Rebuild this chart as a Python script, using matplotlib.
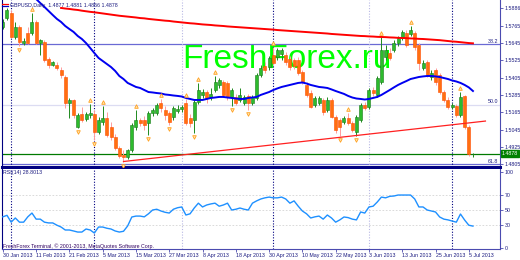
import numpy as np
import matplotlib.pyplot as plt
from matplotlib.lines import Line2D

plt.rcParams['font.family'] = ['Liberation Sans', 'DejaVu Sans']

# подписи оси времени (каждые 8 баров)
dates = ['30 Jan 2013', '11 Feb 2013', '21 Feb 2013', '5 Mar 2013', '15 Mar 2013',
         '27 Mar 2013', '8 Apr 2013', '18 Apr 2013', '30 Apr 2013', '10 May 2013',
         '22 May 2013', '3 Jun 2013', '13 Jun 2013', '25 Jun 2013', '5 Jul 2013']
date_bars = [0, 8, 16, 24, 32, 40, 48, 56, 64, 72, 80, 88, 96, 104, 112]

# GBPUSD Daily, OHLC
opens = [
    1.5756, 1.5818, 1.5853, 1.5687, 1.5756, 1.5645, 1.5715, 1.5715, 1.5791, 1.5645,
    1.5652, 1.5535, 1.5493, 1.5493, 1.5459, 1.5410, 1.5230, 1.5251, 1.5064, 1.5154,
    1.5120, 1.5147, 1.5154, 1.5030, 1.5099, 1.5126, 1.5064, 1.4995, 1.4919, 1.4870,
    1.4857, 1.4905, 1.5064, 1.5113, 1.5113, 1.5092, 1.5161, 1.5161, 1.5230, 1.5182,
    1.5161, 1.5133, 1.5175, 1.5189, 1.5230, 1.5126, 1.5113, 1.5237, 1.5286, 1.5306,
    1.5272, 1.5320, 1.5355, 1.5376, 1.5369, 1.5272, 1.5272, 1.5251, 1.5230, 1.5279,
    1.5230, 1.5265, 1.5424, 1.5486, 1.5479, 1.5562, 1.5549, 1.5569, 1.5562, 1.5535,
    1.5528, 1.5528, 1.5445, 1.5355, 1.5299, 1.5216, 1.5230, 1.5251, 1.5182, 1.5251,
    1.5133, 1.5113, 1.5099, 1.5126, 1.5092, 1.5030, 1.5113, 1.5216, 1.5203, 1.5320,
    1.5286, 1.5376, 1.5549, 1.5576, 1.5597, 1.5645, 1.5680, 1.5715, 1.5708, 1.5715,
    1.5632, 1.5472, 1.5514, 1.5410, 1.5459, 1.5424, 1.5306, 1.5251, 1.5203, 1.5209,
    1.5147, 1.5279, 1.5064, 1.4877]
highs = [
    1.5812, 1.5888, 1.5874, 1.5791, 1.5770, 1.5680, 1.5756, 1.5853, 1.5805, 1.5673,
    1.5666, 1.5549, 1.5521, 1.5514, 1.5479, 1.5424, 1.5265, 1.5258, 1.5161, 1.5203,
    1.5168, 1.5223, 1.5182, 1.5133, 1.5209, 1.5168, 1.5099, 1.5016, 1.4933, 1.4905,
    1.4912, 1.5092, 1.5182, 1.5126, 1.5140, 1.5175, 1.5196, 1.5230, 1.5258, 1.5209,
    1.5175, 1.5209, 1.5216, 1.5216, 1.5258, 1.5154, 1.5251, 1.5369, 1.5327, 1.5320,
    1.5334, 1.5417, 1.5403, 1.5389, 1.5382, 1.5334, 1.5293, 1.5334, 1.5286, 1.5293,
    1.5286, 1.5438, 1.5493, 1.5514, 1.5555, 1.5618, 1.5611, 1.5611, 1.5583, 1.5555,
    1.5542, 1.5549, 1.5459, 1.5376, 1.5320, 1.5279, 1.5279, 1.5265, 1.5272, 1.5265,
    1.5147, 1.5126, 1.5140, 1.5161, 1.5106, 1.5147, 1.5230, 1.5237, 1.5334, 1.5341,
    1.5417, 1.5687, 1.5632, 1.5611, 1.5666, 1.5694, 1.5735, 1.5735, 1.5763, 1.5728,
    1.5645, 1.5528, 1.5528, 1.5459, 1.5472, 1.5438, 1.5320, 1.5272, 1.5230, 1.5223,
    1.5306, 1.5286, 1.5078, 1.4881]
lows = [
    1.5742, 1.5805, 1.5680, 1.5673, 1.5625, 1.5632, 1.5639, 1.5701, 1.5639, 1.5562,
    1.5514, 1.5472, 1.5486, 1.5459, 1.5403, 1.5196, 1.5126, 1.5126, 1.5057, 1.5099,
    1.5106, 1.5126, 1.4974, 1.5016, 1.5078, 1.4995, 1.4974, 1.4905, 1.4850, 1.4822,
    1.4843, 1.4891, 1.5043, 1.5071, 1.5043, 1.5009, 1.5140, 1.5147, 1.5168, 1.5113,
    1.5078, 1.5113, 1.5161, 1.5168, 1.5078, 1.5064, 1.5023, 1.5223, 1.5265, 1.5230,
    1.5251, 1.5306, 1.5334, 1.5272, 1.5251, 1.5209, 1.5216, 1.5237, 1.5216, 1.5182,
    1.5216, 1.5251, 1.5410, 1.5438, 1.5459, 1.5493, 1.5528, 1.5528, 1.5493, 1.5459,
    1.5466, 1.5424, 1.5362, 1.5272, 1.5196, 1.5203, 1.5216, 1.5147, 1.5168, 1.5126,
    1.5023, 1.5002, 1.5085, 1.5078, 1.5030, 1.5002, 1.5099, 1.5182, 1.5189, 1.5279,
    1.5272, 1.5362, 1.5528, 1.5528, 1.5583, 1.5625, 1.5666, 1.5618, 1.5694, 1.5597,
    1.5459, 1.5459, 1.5410, 1.5389, 1.5355, 1.5293, 1.5237, 1.5189, 1.5189, 1.5133,
    1.5133, 1.5050, 1.4863, 1.4856]
closes = [
    1.5791, 1.5874, 1.5687, 1.5756, 1.5652, 1.5659, 1.5645, 1.5791, 1.5645, 1.5666,
    1.5528, 1.5493, 1.5514, 1.5472, 1.5424, 1.5230, 1.5251, 1.5147, 1.5147, 1.5113,
    1.5154, 1.5161, 1.5030, 1.5113, 1.5126, 1.5009, 1.4995, 1.4919, 1.4863, 1.4857,
    1.4905, 1.5078, 1.5113, 1.5092, 1.5078, 1.5161, 1.5182, 1.5216, 1.5196, 1.5147,
    1.5099, 1.5196, 1.5189, 1.5203, 1.5092, 1.5092, 1.5237, 1.5320, 1.5306, 1.5265,
    1.5293, 1.5376, 1.5389, 1.5286, 1.5272, 1.5320, 1.5230, 1.5286, 1.5272, 1.5230,
    1.5272, 1.5424, 1.5472, 1.5459, 1.5542, 1.5507, 1.5597, 1.5597, 1.5514, 1.5479,
    1.5486, 1.5438, 1.5376, 1.5286, 1.5203, 1.5265, 1.5265, 1.5168, 1.5251, 1.5133,
    1.5043, 1.5064, 1.5126, 1.5092, 1.5043, 1.5133, 1.5216, 1.5196, 1.5320, 1.5299,
    1.5403, 1.5597, 1.5597, 1.5542, 1.5645, 1.5680, 1.5722, 1.5632, 1.5735, 1.5618,
    1.5507, 1.5507, 1.5424, 1.5438, 1.5376, 1.5306, 1.5251, 1.5203, 1.5216, 1.5147,
    1.5272, 1.5064, 1.4877, 1.4878]

# синяя скользящая (с 8-го бара)
fast_start = 8
ma_fast = [
    1.5950, 1.5922, 1.5895, 1.5867, 1.5839, 1.5812, 1.5791, 1.5763, 1.5742, 1.5722,
    1.5694, 1.5673, 1.5645, 1.5611, 1.5576, 1.5542, 1.5521, 1.5500, 1.5479, 1.5452,
    1.5417, 1.5396, 1.5369, 1.5355, 1.5341, 1.5334, 1.5320, 1.5306, 1.5303, 1.5299,
    1.5296, 1.5289, 1.5286, 1.5282, 1.5279, 1.5275, 1.5265, 1.5258, 1.5251, 1.5251,
    1.5251, 1.5258, 1.5265, 1.5268, 1.5272, 1.5272, 1.5268, 1.5265, 1.5261, 1.5258,
    1.5258, 1.5265, 1.5268, 1.5272, 1.5286, 1.5296, 1.5306, 1.5320, 1.5331, 1.5341,
    1.5348, 1.5355, 1.5362, 1.5369, 1.5372, 1.5365, 1.5355, 1.5348, 1.5341, 1.5338,
    1.5334, 1.5324, 1.5313, 1.5303, 1.5293, 1.5279, 1.5268, 1.5261, 1.5258, 1.5254,
    1.5258, 1.5265, 1.5272, 1.5286, 1.5303, 1.5320, 1.5338, 1.5355, 1.5369, 1.5382,
    1.5396, 1.5403, 1.5410, 1.5414, 1.5417, 1.5417, 1.5414, 1.5410, 1.5403, 1.5396,
    1.5386, 1.5379, 1.5369, 1.5355, 1.5338, 1.5313]

# красная скользящая (с 14-го бара)
slow_start = 14
ma_slow = [
    1.5888, 1.5884, 1.5881, 1.5877, 1.5874, 1.5869, 1.5865, 1.5861, 1.5858, 1.5854,
    1.5850, 1.5846, 1.5842, 1.5838, 1.5834, 1.5831, 1.5828, 1.5825, 1.5822, 1.5818,
    1.5816, 1.5812, 1.5809, 1.5806, 1.5803, 1.5800, 1.5798, 1.5794, 1.5791, 1.5788,
    1.5785, 1.5782, 1.5780, 1.5777, 1.5774, 1.5772, 1.5770, 1.5767, 1.5765, 1.5763,
    1.5760, 1.5758, 1.5756, 1.5754, 1.5752, 1.5750, 1.5748, 1.5746, 1.5744, 1.5742,
    1.5740, 1.5738, 1.5735, 1.5733, 1.5731, 1.5729, 1.5727, 1.5725, 1.5723, 1.5721,
    1.5719, 1.5717, 1.5715, 1.5713, 1.5711, 1.5708, 1.5706, 1.5704, 1.5702, 1.5700,
    1.5698, 1.5696, 1.5694, 1.5693, 1.5691, 1.5690, 1.5688, 1.5687, 1.5686, 1.5684,
    1.5683, 1.5681, 1.5680, 1.5679, 1.5677, 1.5676, 1.5674, 1.5673, 1.5671, 1.5669,
    1.5667, 1.5665, 1.5662, 1.5659, 1.5656, 1.5654, 1.5651, 1.5648, 1.5645, 1.5643]

rsi = [
    41, 43, 34, 39.5, 34, 34, 41, 46, 38, 38,
    34, 33, 33, 30, 27.6, 23.7, 23.7, 22.4, 21, 21,
    25, 23.7, 19.7, 27.6, 27.6, 26, 25, 22.4, 21, 22,
    29, 40.8, 42, 42, 41, 45, 50, 51, 48.7, 47,
    46, 51, 53, 54, 43.4, 45, 52.6, 59, 54, 56.6,
    58, 59, 55, 56.6, 59, 50, 51, 52.6, 51, 50,
    59, 62, 64.5, 66, 67, 66, 66, 67, 64.5, 59,
    62, 55, 48.7, 45, 39.5, 41, 42, 38, 43.4, 39.5,
    34, 37, 40.8, 40, 38, 37, 47.4, 46, 54, 55,
    60.5, 67, 66, 68, 68.4, 69.7, 69.7, 69.7, 69.7, 64.5,
    54, 54, 50, 48.7, 47.4, 40.8, 38, 37, 35.5, 34,
    44.7, 36.8, 30, 28.8013]

up_fractals = [7, 21, 24, 32, 38, 44, 47, 51, 65, 83, 91, 98, 110]
down_fractals = [4, 18, 22, 29, 35, 40, 46, 55, 59, 81, 85]

trend_bars = [29, 116]
trend_prices = [1.4825, 1.5105]

fib_levels = [1.5635, 1.5216, 1.4805]
fib_names = ['38.2', '50.0', '61.8']
bid = 1.4878

price_ticks = [1.5886, 1.5765, 1.5645, 1.5525, 1.5405, 1.5285, 1.5165, 1.5045, 1.4925, 1.4805]
rsi_ticks = [0, 30, 50, 70, 100]

navy_marks = [2, 22, 65, 108]
light_marks = [43, 88]

W, H = 520, 260
NAVY = '#1a1a80'
AXC = '#4b4bb0'
FS = 3.8


def box(x0, y0, x1, y1):
    return [x0 / W, 1 - y1 / H, (x1 - x0) / W, (y1 - y0) / H]


fig = plt.figure(figsize=(W / 100, H / 100), dpi=100)
ax = fig.add_axes(box(2, 0, 500, 167))
ax_rsi = fig.add_axes(box(2, 168.5, 500, 249), sharex=ax)

o = np.array(opens)
h = np.array(highs)
l = np.array(lows)
c = np.array(closes)
bars = np.arange(len(c))
up = c >= o

# свечи
ax.vlines(bars[up], l[up], h[up], color='#1f8a1f', lw=0.7, zorder=2)
ax.vlines(bars[~up], l[~up], h[~up], color='#ff9c9c', lw=0.7, zorder=2)
ax.bar(bars[up], (c - o)[up], bottom=o[up], width=0.72, color='#2dbb2d',
       edgecolor='#1a7a1a', lw=0.4, zorder=2.5)
ax.bar(bars[~up], (o - c)[~up], bottom=c[~up], width=0.72, color='#ff7010',
       edgecolor='#ff4a00', lw=0.4, zorder=2.5)

# фракталы
ax.plot(up_fractals, h[up_fractals] + 0.0027, ls='none', marker='^', ms=2.6,
        mfc='#ffe6b0', mec='#ffa020', mew=0.6, zorder=4)
ax.plot(down_fractals, l[down_fractals] - 0.0027, ls='none', marker='v', ms=2.6,
        mfc='#ffe6b0', mec='#ffa020', mew=0.6, zorder=4)

# скользящие и трендовая
ax.plot(np.arange(fast_start, fast_start + len(ma_fast)), ma_fast,
        color='#0000f0', lw=1.4, zorder=3)
ax.plot(np.arange(slow_start, slow_start + len(ma_slow)), ma_slow,
        color='#ff0000', lw=1.4, zorder=3)
ax.plot(trend_bars, trend_prices, color='#ff2020', lw=0.9, zorder=3)

# уровни Фибоначчи
fib_colors = ['#6a6ad4', '#dcdcf2', '#6a6ad4']
for lvl, name, col in zip(fib_levels, fib_names, fib_colors):
    ax.axhline(lvl, color=col, lw=0.9, zorder=1)
    ax.text(0.997, lvl + 0.0004, name, transform=ax.get_yaxis_transform(),
            ha='right', va='bottom', fontsize=FS, color=NAVY)

ax.axhline(bid, color='#007a00', lw=0.9, zorder=1)
ax.text(1.004, bid, '%.4f' % bid, transform=ax.get_yaxis_transform(),
        ha='left', va='center', fontsize=FS, color='white', clip_on=False,
        bbox=dict(boxstyle='square,pad=0.2', fc='#008000', ec='#008000'))

for a in (ax, ax_rsi):
    for b in navy_marks:
        a.axvline(b, color='#000080', lw=0.8, ls=(0, (1, 1.5)), zorder=1)
    for b in light_marks:
        a.axvline(b, color='#b8b8e4', lw=0.8, ls=(0, (1, 1.5)), zorder=1)

# водяной знак
ax.text(182 / W, 1 - 68 / H, 'FreshForex.ru', transform=fig.transFigure,
        fontsize=24, family='Liberation Sans', color='#00ff00',
        ha='left', va='baseline', zorder=0.5)

# RSI
ax_rsi.plot(bars, rsi, color='#1e90ff', lw=1.0, zorder=3)
for v in (30, 50, 70):
    ax_rsi.axhline(v, color='#d4d4d4', lw=0.6, ls=(0, (2, 2)), zorder=1)

ax.set_xlim(-0.2, 119.5)
ax.set_ylim(1.4787, 1.5943)
ax_rsi.set_ylim(-1.3, 104.6)

ax.yaxis.tick_right()
ax.set_yticks(price_ticks)
ax.set_yticklabels(['%.4f' % p for p in price_ticks])
ax.tick_params(axis='x', bottom=False, labelbottom=False)
ax_rsi.yaxis.tick_right()
ax_rsi.set_yticks(rsi_ticks)
ax_rsi.set_yticklabels([str(v) for v in rsi_ticks])
ax_rsi.set_xticks(date_bars)
ax_rsi.set_xticklabels(dates)
for lbl in ax_rsi.get_xticklabels():
    lbl.set_ha('left')
for a in (ax, ax_rsi):
    a.tick_params(axis='both', length=2, width=0.6, pad=1.2, labelsize=FS,
                  labelcolor=NAVY, color=AXC)
    a.spines['top'].set_visible(False)
    a.spines['left'].set_color('#000080')
    a.spines['left'].set_linewidth(0.8)
    a.spines['right'].set_color(AXC)
    a.spines['right'].set_linewidth(0.8)
ax.spines['bottom'].set_color('#000080')
ax.spines['bottom'].set_linewidth(2.2)
ax_rsi.spines['bottom'].set_color(AXC)
ax_rsi.spines['bottom'].set_linewidth(0.8)

# подписи
fig.add_artist(Line2D([2 / W, 8 / W], [1 - 3.5 / H] * 2, color='#ff0000', lw=0.9))
fig.add_artist(Line2D([2 / W, 8 / W], [1 - 5.5 / H] * 2, color='#0000c0', lw=0.9))
fig.text(10 / W, 1 - 5 / H, 'GBPUSD,Daily  1.4877 1.4881 1.4856 1.4878',
         fontsize=FS, color=NAVY, va='center')
fig.text(3 / W, 1 - 172.5 / H, 'RSI(14) 28.8013', fontsize=FS, color=NAVY, va='center')
fig.text(3 / W, 1 - 246 / H,
         'FreshForex Terminal, \u00a9 2001-2013, MetaQuotes Software Corp.',
         fontsize=FS, color='#300060', va='center')

fig.savefig('out.png', dpi=100)
